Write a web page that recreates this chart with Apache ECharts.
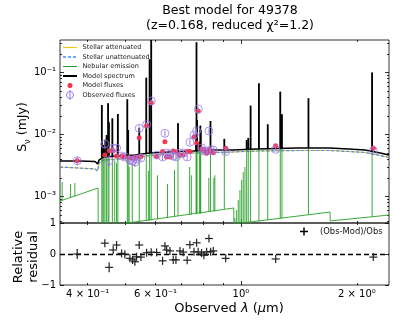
<!DOCTYPE html>
<html>
<head>
<meta charset="utf-8">
<script src="https://cdn.jsdelivr.net/npm/echarts@6/dist/echarts.min.js"></script>
<style>
html, body { margin: 0; padding: 0; background: #fff; }
#chart { width: 415px; height: 321px; }
</style>
</head>
<body>
<div id="chart"></div>
<script>
// wavelengths in micron, fluxes in mJy

// continua
const contWave = [0.339, 0.38, 0.418, 0.4245, 0.428, 0.44, 0.48, 0.53, 0.58, 0.65, 0.75, 0.85, 0.95, 1.1, 1.4, 1.7, 1.9, 2.1, 2.3, 2.423]
const modelCont = [3.74e-3, 3.74e-3, 3.67e-3, 3.34e-3, 3.88e-3, 4.34e-3, 4.50e-3, 4.67e-3, 5.03e-3, 5.22e-3, 5.42e-3, 5.62e-3, 5.62e-3, 5.83e-3, 6.05e-3, 6.05e-3, 5.83e-3, 5.62e-3, 5.03e-3, 4.67e-3]
const stellarAtt = [2.99e-3, 2.88e-3, 2.78e-3, 2.58e-3, 3.47e-3, 3.88e-3, 4.03e-3, 4.26e-3, 4.58e-3, 4.84e-3, 5.03e-3, 5.13e-3, 5.22e-3, 5.42e-3, 5.52e-3, 5.52e-3, 5.32e-3, 5.13e-3, 4.58e-3, 4.26e-3]
const stellarUnatt = [2.99e-3, 2.88e-3, 2.78e-3, 2.58e-3, 3.47e-3, 3.88e-3, 4.03e-3, 4.26e-3, 4.58e-3, 4.84e-3, 5.03e-3, 5.13e-3, 5.22e-3, 5.42e-3, 5.52e-3, 5.52e-3, 5.32e-3, 5.13e-3, 4.58e-3, 4.26e-3]

// nebular continuum (Balmer / Paschen / Brackett jumps)
const nebWave = [0.339, 0.4257, 0.4259, 0.958, 0.9585, 1.704, 1.7045, 2.423]
const nebCont = [8.45e-4, 1.37e-3, 3.2e-4, 6.53e-4, 3.6e-4, 5.62e-4, 4.03e-4, 5.03e-4]

// strong emission lines: peak, model continuum under the line, nebular continuum under the line
const lineWave = [0.4353, 0.4380, 0.4405, 0.4436, 0.4479, 0.4519, 0.4542, 0.4636, 0.4791, 0.5069, 0.5096, 0.5445, 0.5678, 0.5792, 0.5848, 0.6863, 0.7648, 0.7666, 0.7690, 0.7800, 0.7845, 0.7862, 0.8335, 0.9053, 1.0347, 1.0446, 1.0593, 1.1132, 1.1737, 1.2650, 1.2776, 1.4971, 2.1900]
const lineTop = [0.0299, 0.0060, 0.0068, 0.0082, 0.0098, 0.0319, 0.0157, 0.0182, 0.0214, 0.0370, 0.0118, 0.0127, 0.0824, 0.163, 0.55, 0.0152, 0.0082, 0.307, 0.0171, 0.0075, 0.0139, 0.0118, 0.0165, 0.0085, 0.0081, 0.0088, 0.0292, 0.067, 0.0146, 0.049, 0.0212, 0.0384, 0.100]
const lineBase = [4.3e-3, 4.3e-3, 4.34e-3, 4.34e-3, 4.38e-3, 4.4e-3, 4.4e-3, 4.45e-3, 4.5e-3, 4.6e-3, 4.6e-3, 4.75e-3, 4.9e-3, 5.0e-3, 5.03e-3, 5.3e-3, 5.4e-3, 5.4e-3, 5.4e-3, 5.45e-3, 5.45e-3, 5.45e-3, 5.55e-3, 5.62e-3, 5.75e-3, 5.75e-3, 5.78e-3, 5.83e-3, 5.9e-3, 5.95e-3, 5.95e-3, 6.05e-3, 5.4e-3]
const lineNebBase = [1e-4, 1e-4, 1e-4, 1e-4, 1e-4, 1e-4, 1e-4, 1e-4, 1e-4, 1e-4, 1e-4, 1e-4, 4.07e-4, 4.12e-4, 4.15e-4, 4.83e-4, 5.3e-4, 5.3e-4, 5.3e-4, 5.3e-4, 5.3e-4, 5.3e-4, 5.75e-4, 6.2e-4, 3.85e-4, 3.9e-4, 3.9e-4, 4.0e-4, 4.2e-4, 4.45e-4, 4.45e-4, 5.1e-4, 4.8e-4]

// weak nebular lines (below the model continuum)
const weakWave = [0.3434, 0.3611, 0.3705, 0.4702, 0.4753, 0.5125, 0.5222, 0.5749, 0.6072, 0.6445, 0.6722, 0.7358, 0.7433, 0.8252, 0.8504, 0.8555, 0.9647, 0.9746, 0.9840, 0.9940, 1.0042, 1.0138, 1.0242]
const weakTop = [1.72e-3, 1.6e-3, 1.65e-3, 3.8e-3, 3.5e-3, 3.0e-3, 3.4e-3, 2.6e-3, 2.2e-3, 1.6e-3, 2.67e-3, 3.0e-3, 2.2e-3, 2.0e-3, 2.0e-3, 2.2e-3, 4.5e-4, 6.05e-4, 8.8e-4, 1.27e-3, 1.85e-3, 2.48e-3, 2.99e-3]
const weakBase = [8.7e-4, 9.6e-4, 1.01e-3, 1e-4, 1e-4, 1e-4, 1e-4, 4.1e-4, 4.3e-4, 4.6e-4, 4.8e-4, 5.1e-4, 5.1e-4, 5.7e-4, 5.8e-4, 5.8e-4, 3.6e-4, 3.6e-4, 3.65e-4, 3.7e-4, 3.7e-4, 3.75e-4, 3.8e-4]

// photometry
const fluxWave = [0.3757, 0.4432, 0.4548, 0.4659, 0.4754, 0.4898, 0.4995, 0.5148, 0.5233, 0.5305, 0.5359, 0.5443, 0.5498, 0.5690, 0.5848, 0.6039, 0.6259, 0.6348, 0.6412, 0.6540, 0.6671, 0.6779, 0.6944, 0.7082, 0.7252, 0.7370, 0.7550, 0.7673, 0.7745, 0.7904, 0.8013, 0.8145, 0.8259, 0.8345, 0.8475, 0.9127, 1.2306, 2.2060]
const obsFlux = [0.00378, 0.00703, 0.00378, 0.00599, 0.00606, 0.00450, 0.00434, 0.00388, 0.00374, 0.00360, 0.00403, 0.0126, 0.00418, 0.0146, 0.0347, 0.00467, 0.00434, 0.01045, 0.00503, 0.00485, 0.00450, 0.00434, 0.00503, 0.00503, 0.00434, 0.0075, 0.00982, 0.0114, 0.0257, 0.00606, 0.00542, 0.0054, 0.0114, 0.00562, 0.00562, 0.00528, 0.00577, 0.00548]
const obsErr = [0.0006, 0.0011, 0.0008, 0.0008, 0.0009, 0.0005, 0.0005, 0.0006, 0.0006, 0.0006, 0.0005, 0.0015, 0.0005, 0.0012, 0.0020, 0.0004, 0.0005, 0.0012, 0.0005, 0.0005, 0.0005, 0.0005, 0.0005, 0.0005, 0.0005, 0.0008, 0.0010, 0.0012, 0.0018, 0.0005, 0.0005, 0.0005, 0.0011, 0.0005, 0.0005, 0.0005, 0.0004, 0.0004]
const modFlux = [0.00378, 0.00467, 0.00548, 0.00548, 0.00450, 0.00450, 0.00434, 0.00418, 0.00418, 0.00410, 0.00426, 0.00888, 0.00442, 0.0140, 0.0326, 0.00442, 0.00532, 0.00765, 0.00434, 0.00434, 0.00542, 0.00522, 0.00458, 0.00467, 0.00532, 0.0053, 0.00912, 0.0073, 0.0240, 0.0059, 0.00562, 0.0050, 0.0057, 0.00522, 0.00506, 0.00599, 0.0066, 0.00599]
const residual = [0.00, 0.35, -0.43, 0.13, 0.29, 0.02, -0.01, -0.14, -0.19, -0.25, -0.09, 0.29, -0.10, 0.04, 0.06, 0.05, -0.22, 0.26, 0.13, 0.10, -0.19, -0.19, 0.10, 0.06, -0.20, 0.30, 0.07, 0.36, 0.07, 0.03, -0.04, 0.07, 0.50, 0.07, 0.10, -0.14, -0.16, -0.10]
const resErr = [0.16, 0.12, 0.16, 0.12, 0.13, 0.1, 0.1, 0.12, 0.12, 0.13, 0.1, 0.1, 0.1, 0.08, 0.06, 0.08, 0.1, 0.1, 0.1, 0.1, 0.1, 0.1, 0.1, 0.08, 0.1, 0.1, 0.1, 0.1, 0.06, 0.08, 0.08, 0.08, 0.06, 0.08, 0.08, 0.1, 0.08, 0.08]

// ticks
const xTickValues = [0.4, 0.6, 1, 2]
const xTickLabels = ['4 × 10⁻¹', '6 × 10⁻¹', '10⁰', '2 × 10⁰']
const xMinorTicks = [0.4, 0.5, 0.6, 0.7, 0.8, 0.9, 2]
const xMajorTicks = [1]
const yTickValues = [1e-3, 1e-2, 1e-1]
const yTickLabels = ['10⁻³', '10⁻²', '10⁻¹']
const yMinorTicks = [4e-4, 5e-4, 6e-4, 7e-4, 8e-4, 9e-4, 2e-3, 3e-3, 4e-3, 5e-3, 6e-3, 7e-3, 8e-3, 9e-3, 2e-2, 3e-2, 4e-2, 5e-2, 6e-2, 7e-2, 8e-2, 9e-2, 2e-1, 3e-1]
const resTickValues = [-1, 0, 1]
const resTickLabels = ['−1', '0', '1']

const FONT = 'DejaVu Sans'
const YELLOW = '#f5c518'
const BLUE = '#3f8fff'
const GREEN = '#25a025'
const RED = '#f2304f'
const PURPLE = '#9b7be6'

const lg = Math.log10
const X_MIN = lg(0.339), X_MAX = lg(2.423)
const Y_MIN = -3.427, Y_MAX = -0.476

function pick(values, labels, v) {
  for (let i = 0; i < values.length; i++) {
    if (Math.abs(values[i] - v) < 1e-6) return labels[i]
  }
  return ''
}

function xAxisFor(grid, position, ticks, len, withLabels) {
  return {
    type: 'value', gridIndex: grid, position: position, min: X_MIN, max: X_MAX,
    axisLine: { show: false, onZero: false }, splitLine: { show: false },
    axisTick: { show: true, inside: true, length: len, customValues: ticks.map(lg), lineStyle: { color: '#000', width: 0.8 } },
    axisLabel: withLabels ? {
      show: true, customValues: xTickValues.map(lg), margin: 4,
      fontSize: 10, fontFamily: FONT, color: '#000',
      formatter: v => pick(xTickValues.map(lg), xTickLabels, v)
    } : { show: false }
  }
}

function yAxisFor(grid, position, min, max, ticks, len, labelValues, labelTexts) {
  return {
    type: 'value', gridIndex: grid, position: position, min: min, max: max,
    axisLine: { show: false, onZero: false }, splitLine: { show: false },
    axisTick: { show: true, inside: true, length: len, customValues: ticks, lineStyle: { color: '#000', width: 0.8 } },
    axisLabel: labelValues ? {
      show: true, customValues: labelValues, margin: 4,
      fontSize: 10, fontFamily: FONT, color: '#000',
      formatter: v => pick(labelValues, labelTexts, v)
    } : { show: false }
  }
}

// vertical segments, clipped to the plot
function segments(name, data, color, width, z, xi, yi) {
  return {
    type: 'custom', name: name, xAxisIndex: xi, yAxisIndex: yi, z: z, clip: true, silent: true,
    data: data, encode: { x: 0, y: [1, 2] },
    renderItem: function (params, api) {
      const p0 = api.coord([api.value(0), api.value(1)])
      const p1 = api.coord([api.value(0), api.value(2)])
      return {
        type: 'line',
        shape: { x1: p0[0], y1: p0[1], x2: p1[0], y2: p1[1] },
        style: { stroke: color, lineWidth: width }
      }
    }
  }
}

function curve(name, wave, flux, color, width, z, dash) {
  return {
    type: 'line', name: name, xAxisIndex: 0, yAxisIndex: 0, z: z, clip: true, silent: true,
    symbol: 'none', showSymbol: false,
    lineStyle: { color: color, width: width, type: dash || 'solid' },
    data: wave.map((w, i) => [lg(w), lg(flux[i])])
  }
}

const chart = echarts.init(document.getElementById('chart'), null, { renderer: 'canvas' })

const legendY = [47.5, 57, 66.5, 76, 85.5, 95]
const legendText = ['Stellar attenuated', 'Stellar unattenuated', 'Nebular emission', 'Model spectrum', 'Model fluxes', 'Observed fluxes']

const graphics = [
  { type: 'text', x: 230, y: 11, style: { text: 'Best model for 49378', fontSize: 12.5, fontFamily: FONT, fill: '#000', align: 'center', verticalAlign: 'middle' } },
  { type: 'text', x: 230, y: 26, style: { text: '(z=0.168, reduced χ²=1.2)', fontSize: 12.5, fontFamily: FONT, fill: '#000', align: 'center', verticalAlign: 'middle' } },
  { type: 'text', x: 23, y: 127, rotation: Math.PI / 2, style: {
      text: '{a|S}{b|ν}{a| (mJy)}', align: 'center', verticalAlign: 'middle', fill: '#000',
      rich: { a: { fontSize: 12.5, fontFamily: FONT, lineHeight: 18 }, b: { fontSize: 8.5, fontFamily: FONT, verticalAlign: 'bottom', lineHeight: 9 } } } },
  { type: 'text', x: 19, y: 257, rotation: Math.PI / 2, style: { text: 'Relative', fontSize: 13, fontFamily: FONT, fill: '#000', align: 'center', verticalAlign: 'middle' } },
  { type: 'text', x: 34, y: 257, rotation: Math.PI / 2, style: { text: 'residual', fontSize: 13, fontFamily: FONT, fill: '#000', align: 'center', verticalAlign: 'middle' } },
  { type: 'text', x: 229, y: 309, style: {
      text: '{n|Observed }{i|λ}{n| (}{i|μ}{n|m)}', align: 'center', verticalAlign: 'middle', fill: '#000',
      rich: { n: { fontSize: 13, fontFamily: FONT }, i: { fontSize: 13, fontFamily: FONT, fontStyle: 'italic' } } } },
  // main legend
  { type: 'line', shape: { x1: 63, y1: legendY[0], x2: 77, y2: legendY[0] }, style: { stroke: YELLOW, lineWidth: 1.2 }, z: 20 },
  { type: 'line', shape: { x1: 63, y1: legendY[1], x2: 77, y2: legendY[1] }, style: { stroke: BLUE, lineWidth: 1.4, lineDash: [3, 2] }, z: 20 },
  { type: 'line', shape: { x1: 63, y1: legendY[2], x2: 77, y2: legendY[2] }, style: { stroke: GREEN, lineWidth: 1 }, z: 20 },
  { type: 'line', shape: { x1: 63, y1: legendY[3], x2: 77, y2: legendY[3] }, style: { stroke: '#000', lineWidth: 2 }, z: 20 },
  { type: 'circle', shape: { cx: 70, cy: legendY[4], r: 2.5 }, style: { fill: RED }, z: 20 },
  { type: 'circle', shape: { cx: 70, cy: legendY[5], r: 3.5 }, style: { fill: 'none', stroke: PURPLE, lineWidth: 1 }, z: 20 },
  { type: 'line', shape: { x1: 70, y1: legendY[5] - 5, x2: 70, y2: legendY[5] + 5 }, style: { stroke: PURPLE, lineWidth: 1 }, z: 20 },
  // residual legend
  { type: 'line', shape: { x1: 300, y1: 231.5, x2: 308, y2: 231.5 }, style: { stroke: '#000', lineWidth: 1.5 }, z: 20 },
  { type: 'line', shape: { x1: 304, y1: 227.5, x2: 304, y2: 235.5 }, style: { stroke: '#000', lineWidth: 1.5 }, z: 20 },
  { type: 'text', x: 320, y: 231.5, style: { text: '(Obs-Mod)/Obs', fontSize: 8.4, fontFamily: FONT, fill: '#111', verticalAlign: 'middle' }, z: 20 }
]
legendText.forEach((t, i) => {
  graphics.push({ type: 'text', x: 82.5, y: legendY[i], z: 20,
    style: { text: t, fontSize: 6.5, fontFamily: FONT, fill: '#222', verticalAlign: 'middle' } })
})

chart.setOption({
  animation: false,
  backgroundColor: '#ffffff',
  grid: [
    { left: 60, top: 40, width: 329, height: 183, show: true, borderColor: '#000', borderWidth: 0.8, backgroundColor: 'transparent' },
    { left: 60, top: 223, width: 329, height: 62, show: true, borderColor: '#000', borderWidth: 0.8, backgroundColor: 'transparent' }
  ],
  xAxis: [
    xAxisFor(0, 'bottom', xMinorTicks, 2, false),
    xAxisFor(0, 'bottom', xMajorTicks, 4, false),
    xAxisFor(0, 'top', xMinorTicks, 2, false),
    xAxisFor(0, 'top', xMajorTicks, 4, false),
    xAxisFor(1, 'bottom', xMinorTicks, 2, true),
    xAxisFor(1, 'bottom', xMajorTicks, 4, false),
    xAxisFor(1, 'top', xMinorTicks, 2, false),
    xAxisFor(1, 'top', xMajorTicks, 4, false)
  ],
  yAxis: [
    yAxisFor(0, 'left', Y_MIN, Y_MAX, yMinorTicks.map(lg), 2, null, null),
    yAxisFor(0, 'left', Y_MIN, Y_MAX, yTickValues.map(lg), 4, yTickValues.map(lg), yTickLabels),
    yAxisFor(0, 'right', Y_MIN, Y_MAX, yMinorTicks.map(lg), 2, null, null),
    yAxisFor(0, 'right', Y_MIN, Y_MAX, yTickValues.map(lg), 4, null, null),
    yAxisFor(1, 'left', -1, 1, resTickValues, 4, resTickValues, resTickLabels),
    yAxisFor(1, 'right', -1, 1, resTickValues, 4, null, null)
  ],
  graphic: graphics,
  series: [
    curve('Stellar attenuated', contWave, stellarAtt, YELLOW, 1, 2),
    curve('Stellar unattenuated', contWave, stellarUnatt, BLUE, 1.2, 3, [3, 2]),
    curve('Nebular emission', nebWave, nebCont, GREEN, 0.9, 4),
    segments('Nebular lines', lineWave.map((w, i) => [lg(w), lg(lineNebBase[i]), lg(lineTop[i])]), GREEN, 0.9, 4, 0, 0),
    segments('Nebular weak lines', weakWave.map((w, i) => [lg(w), lg(weakBase[i]), lg(weakTop[i])]), GREEN, 0.9, 4, 0, 0),
    curve('Model spectrum', contWave, modelCont, '#000', 1.5, 5),
    segments('Model lines', lineWave.map((w, i) => [lg(w), lg(lineBase[i]), lg(lineTop[i])]), '#000', 1.8, 5, 0, 0),
    {
      type: 'scatter', name: 'Model fluxes', xAxisIndex: 0, yAxisIndex: 0, z: 6, silent: true,
      symbol: 'circle', symbolSize: 5, itemStyle: { color: RED, opacity: 0.95 },
      data: fluxWave.map((w, i) => [lg(w), lg(modFlux[i])])
    },
    segments('Observed errors', fluxWave.map((w, i) => [lg(w), lg(obsFlux[i] - obsErr[i]), lg(obsFlux[i] + obsErr[i])]), PURPLE, 1, 7, 0, 0),
    {
      type: 'scatter', name: 'Observed fluxes', xAxisIndex: 0, yAxisIndex: 0, z: 7, silent: true,
      symbol: 'circle', symbolSize: 8,
      itemStyle: { color: 'rgba(0,0,0,0)', borderColor: PURPLE, borderWidth: 1 },
      data: fluxWave.map((w, i) => [lg(w), lg(obsFlux[i])])
    },
    {
      type: 'custom', name: '(Obs-Mod)/Obs', xAxisIndex: 4, yAxisIndex: 4, z: 6, clip: true, silent: true,
      data: fluxWave.map((w, i) => [lg(w), residual[i], resErr[i]]),
      encode: { x: 0, y: 1 },
      renderItem: function (params, api) {
        const x = api.value(0), r = api.value(1), e = api.value(2)
        const c = api.coord([x, r])
        const hi = api.coord([x, r + e])
        const lo = api.coord([x, r - e])
        return {
          type: 'group',
          children: [
            { type: 'line', shape: { x1: c[0] - 4, y1: c[1], x2: c[0] + 4, y2: c[1] }, style: { stroke: '#222', lineWidth: 1.2 } },
            { type: 'line', shape: { x1: c[0], y1: Math.min(hi[1], c[1] - 4), x2: c[0], y2: Math.max(lo[1], c[1] + 4) }, style: { stroke: '#222', lineWidth: 1.2 } }
          ]
        }
      },
      markLine: {
        silent: true, symbol: 'none', label: { show: false },
        lineStyle: { color: '#000', width: 1.3, type: [5, 3] },
        data: [{ yAxis: 0 }]
      }
    }
  ]
})
</script>
</body>
</html>
